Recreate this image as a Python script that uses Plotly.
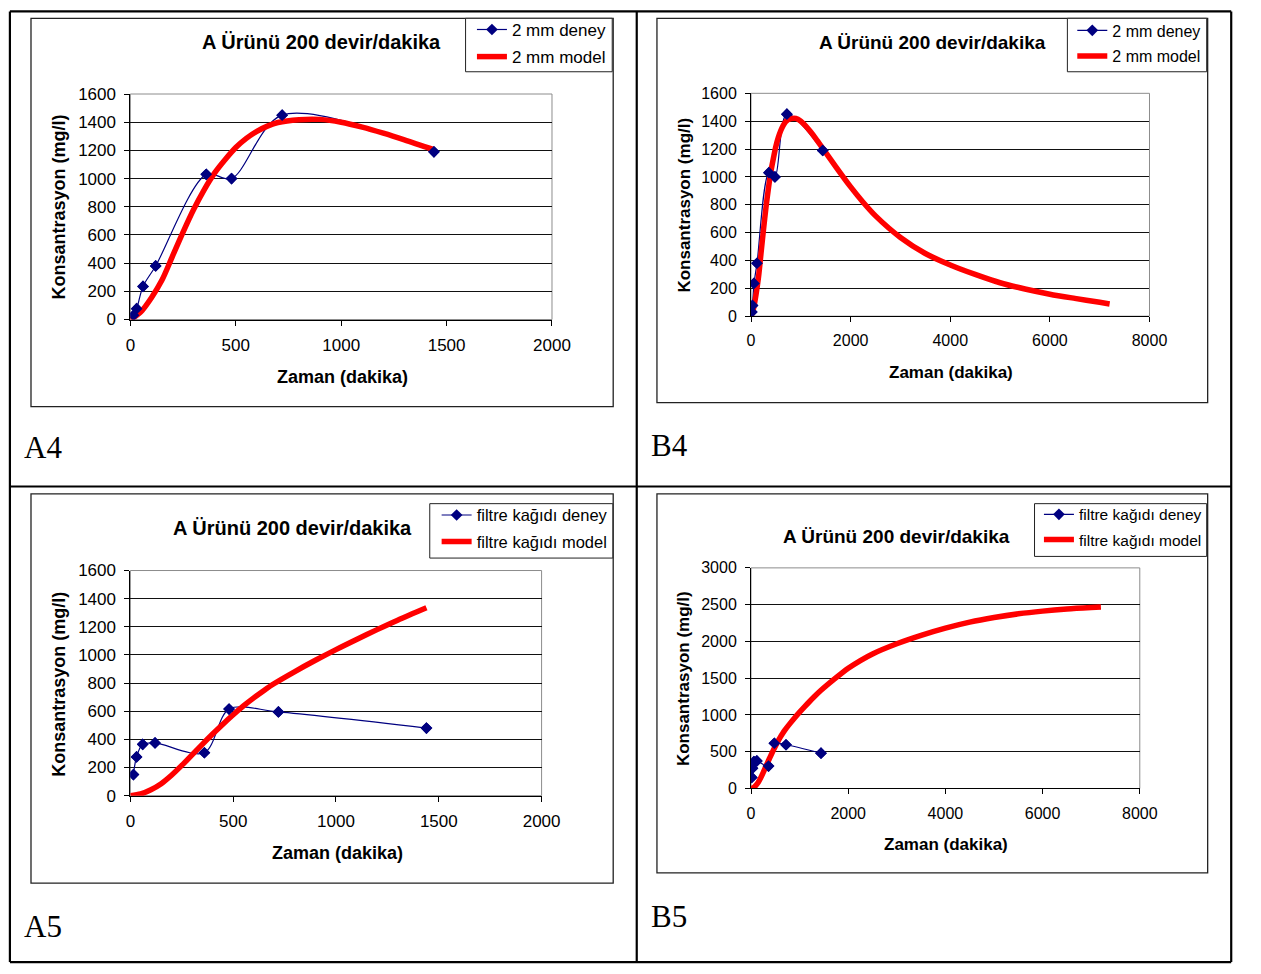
import plotly.graph_objects as go

# Sampling times of the experiments (dakika)
zaman_deney = [15, 30, 60, 120, 360, 480, 720, 1440]
deney_2mm = [30, 77, 235, 380, 1030, 1000, 1450, 1190]
deney_filtre = [150, 275, 365, 375, 305, 615, 595, 480]

# Model curves (dakika, mg/l)
zaman_model = [0, 50, 100, 150, 200, 250, 300, 350, 400, 450, 500, 550, 600, 650,
               700, 800, 900, 1000, 1100, 1200, 1300, 1440, 1700, 2000, 2250, 2500,
               3000, 3500, 4000, 4500, 5000, 5500, 6000, 6500, 7000, 7200]
model_2mm = [0, 55, 155, 280, 450, 620, 780, 920, 1040, 1135, 1220, 1285, 1335, 1372,
             1398, 1418, 1420, 1400, 1365, 1322, 1275, 1205, 1074, 928, 818, 720,
             565, 450, 368, 300, 240, 195, 158, 128, 100, 88]
model_filtre = [0, 12, 42, 85, 145, 215, 290, 365, 438, 508, 575, 638, 695, 748,
                797, 882, 962, 1038, 1110, 1180, 1247, 1335, 1480, 1635, 1740, 1830,
                1968, 2082, 2180, 2262, 2325, 2375, 2412, 2440, 2460, 2467]

baslik = "A Ürünü 200 devir/dakika"
x_baslik = "Zaman (dakika)"
y_baslik = "Konsantrasyon (mg/l)"

W, H = 1261, 974
SANS = "Liberation Sans, Arial, sans-serif"
SERIF = "Liberation Serif, Times New Roman, serif"
NAVY = "#000080"
RED = "#FF0000"


def px(x):
    return x / W


def py(y):
    return 1 - y / H


# Each panel: label, axis suffix, legend id, series, ranges, font sizes and geometry (px)
panels = [
    dict(label="A4", ax="", leg="legend", deney=deney_2mm, model=model_2mm,
         tmax=1440, xmax=2000, xstep=500, ymax=1600, ystep=200,
         names=("2 mm deney", "2 mm model"), fs=(20, 18, 17, 17),
         plot=(127.8, 557.6, 86.7, 316.7), frame=(26.5, 620, 9.5, 405.5),
         legbox=(469.5, 619, 9.5, 64), legtext=(517, 23),
         title=(323, 34), xt=(344, 375.5), yt=(55, 201.5), lab=(17, 447)),
    dict(label="B4", ax="2", leg="legend2", deney=deney_2mm, model=model_2mm,
         tmax=7200, xmax=8000, xstep=2000, ymax=1600, ystep=200,
         names=("2 mm deney", "2 mm model"), fs=(19, 17, 16, 16),
         plot=(760.5, 1166.7, 86, 313.3), frame=(664.6, 1226, 9.5, 401.5),
         legbox=(1083, 1225, 9.5, 64), legtext=(1129, 24.5),
         title=(945, 34.3), xt=(964, 370.7), yt=(692.7, 200), lab=(656, 445)),
    dict(label="A5", ax="3", leg="legend3", deney=deney_filtre, model=model_filtre,
         tmax=1440, xmax=2000, xstep=500, ymax=1600, ystep=200,
         names=("filtre kağıdı deney", "filtre kağıdı model"), fs=(20, 18, 16.5, 17),
         plot=(127.8, 547, 572.7, 802.3), frame=(26.5, 620, 494.5, 891.5),
         legbox=(433, 619.6, 504.5, 560), legtext=(481, 518.5),
         title=(292.7, 529.3), xt=(338.8, 861), yt=(55, 688.3), lab=(17, 936)),
    dict(label="B5", ax="4", leg="legend4", deney=deney_filtre, model=model_filtre,
         tmax=7200, xmax=8000, xstep=2000, ymax=3000, ystep=500,
         names=("filtre kağıdı deney", "filtre kağıdı model"), fs=(19, 17, 15.5, 16),
         plot=(760.5, 1156.8, 570, 795), frame=(664.6, 1226, 494.5, 881),
         legbox=(1049.5, 1225, 504.5, 558.3), legtext=(1095, 518.5),
         title=(908.7, 537.7), xt=(959.4, 851.7), yt=(692.3, 683.3), lab=(656, 926)),
]

fig = go.Figure()
shapes = []
annotations = []
layout = {}

for p in panels:
    xa = "x" + p["ax"]
    ya = "y" + p["ax"]
    fs_title, fs_axis, fs_leg, fs_tick = p["fs"]
    mt = [t for t in zaman_model if t <= p["tmax"]]
    mv = p["model"][:len(mt)]

    fig.add_trace(go.Scatter(
        x=zaman_deney, y=p["deney"], name=p["names"][0], xaxis=xa, yaxis=ya,
        legend=p["leg"], legendgroup=p["label"] + "d", mode="lines+markers",
        line=dict(color=NAVY, width=1.2, shape="spline", smoothing=0.9),
        marker=dict(symbol="diamond", size=9, color=NAVY)))
    fig.add_trace(go.Scatter(
        x=mt, y=mv, name=p["names"][1], xaxis=xa, yaxis=ya, legend=p["leg"],
        legendgroup=p["label"] + "m", mode="lines",
        line=dict(color=RED, width=5.5, shape="spline", smoothing=0.8)))
    fig.add_trace(go.Scatter(
        x=zaman_deney, y=p["deney"], xaxis=xa, yaxis=ya, showlegend=False,
        mode="markers", marker=dict(symbol="diamond", size=9, color=NAVY),
        hoverinfo="skip"))

    x0, x1, y0, y1 = p["plot"]
    layout["xaxis" + p["ax"]] = dict(
        domain=[px(x0), px(x1)], anchor=ya, range=[0, p["xmax"]],
        tickmode="linear", tick0=0, dtick=p["xstep"], showgrid=False, zeroline=False,
        showline=True, linecolor="black", linewidth=1, ticks="outside", ticklen=5,
        tickcolor="black", tickfont=dict(family=SANS, size=fs_tick, color="black"),
        ticklabelstandoff=5, fixedrange=True)
    layout["yaxis" + p["ax"]] = dict(
        domain=[py(y1), py(y0)], anchor=xa, range=[0, p["ymax"]],
        tickmode="linear", tick0=0, dtick=p["ystep"], showgrid=True,
        gridcolor="#111111", gridwidth=1, zeroline=False,
        showline=True, linecolor="black", linewidth=1, ticks="outside", ticklen=5,
        tickcolor="black", tickfont=dict(family=SANS, size=fs_tick, color="black"),
        ticklabelstandoff=5, fixedrange=True)

    # plot-area border (grey) and chart frame
    shapes.append(dict(type="rect", xref="paper", yref="paper", x0=px(x0), x1=px(x1),
                       y0=py(y1), y1=py(y0), line=dict(color="#8c8c8c", width=1),
                       layer="below"))
    fx0, fx1, fy0, fy1 = p["frame"]
    shapes.append(dict(type="rect", xref="paper", yref="paper", x0=px(fx0), x1=px(fx1),
                       y0=py(fy1), y1=py(fy0), line=dict(color="#222222", width=1.3),
                       layer="below"))

    # legend box and legend entries
    lb0, lb1, lt0, lt1 = p["legbox"]
    shapes.append(dict(type="rect", xref="paper", yref="paper", x0=px(lb0), x1=px(lb1),
                       y0=py(lt1), y1=py(lt0), line=dict(color="#222222", width=1),
                       fillcolor="white", layer="below"))
    ltx, lty = p["legtext"]
    layout[p["leg"]] = dict(
        x=px(ltx - 41), y=py(lty - 20), xanchor="left", yanchor="top",
        xref="paper", yref="paper", bgcolor="rgba(0,0,0,0)", borderwidth=0,
        font=dict(family=SANS, size=fs_leg, color="black"), tracegroupgap=2,
        itemwidth=30, orientation="v")

    tx, ty = p["title"]
    annotations.append(dict(text="<b>%s</b>" % baslik, x=px(tx), y=py(ty),
                            xref="paper", yref="paper", xanchor="center", yanchor="middle",
                            showarrow=False,
                            font=dict(family=SANS, size=fs_title, color="black")))
    ax_, ay_ = p["xt"]
    annotations.append(dict(text="<b>%s</b>" % x_baslik, x=px(ax_), y=py(ay_),
                            xref="paper", yref="paper", xanchor="center", yanchor="middle",
                            showarrow=False,
                            font=dict(family=SANS, size=fs_axis, color="black")))
    bx, by = p["yt"]
    annotations.append(dict(text="<b>%s</b>" % y_baslik, x=px(bx), y=py(by),
                            xref="paper", yref="paper", xanchor="center", yanchor="middle",
                            textangle=-90, showarrow=False,
                            font=dict(family=SANS, size=fs_axis, color="black")))
    lbx, lby = p["lab"]
    annotations.append(dict(text=p["label"], x=px(lbx), y=py(lby), xref="paper",
                            yref="paper", xanchor="left", yanchor="middle", showarrow=False,
                            font=dict(family=SERIF, size=31, color="black")))

# table grid around the four panels
L, R, T, B = 5, 1250, 2.5, 972
for (xa0, xa1, ya0, ya1) in [(L, R, T, T), (L, R, 487, 487), (L, R, B, B),
                             (L, L, T, B), (644, 644, T, B), (R, R, T, B)]:
    shapes.append(dict(type="line", xref="paper", yref="paper", x0=px(xa0), x1=px(xa1),
                       y0=py(ya0), y1=py(ya1), line=dict(color="black", width=2.2)))

fig.update_layout(
    width=W, height=H, autosize=False,
    margin=dict(l=0, r=0, t=0, b=0, pad=0),
    paper_bgcolor="white", plot_bgcolor="white",
    shapes=shapes, annotations=annotations, showlegend=True,
    font=dict(family=SANS, color="black"),
    **layout)

fig.write_html("out.html", config={"displayModeBar": False})
